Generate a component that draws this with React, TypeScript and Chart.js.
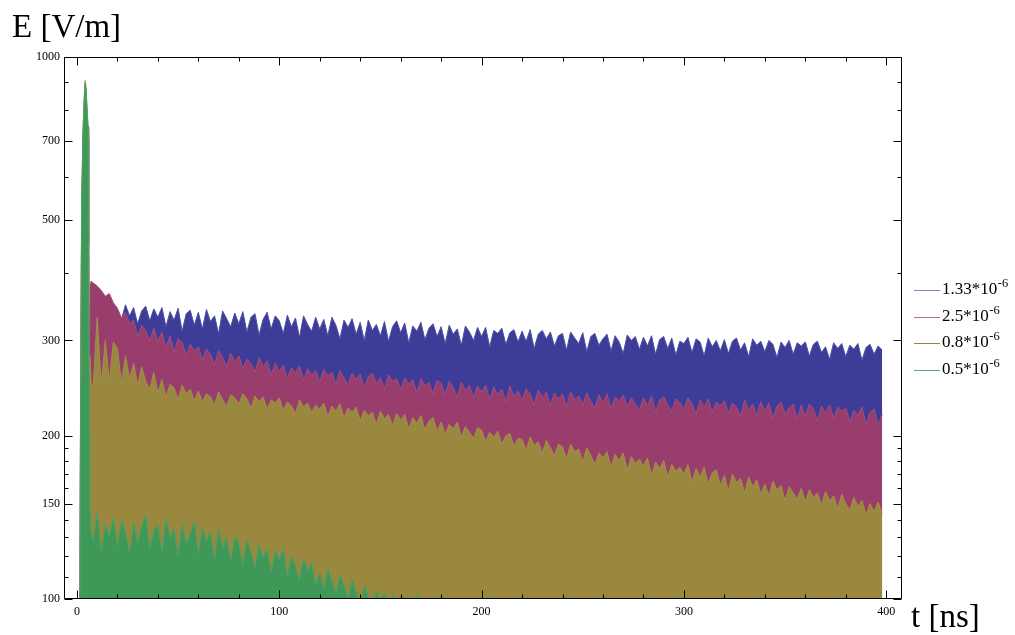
import { useEffect, useRef } from "react";
import { Chart, registerables } from "chart.js";

Chart.register(...registerables);

// ---- data (t in ns, E in V/m) ----
const PULSE_T = [1.5, 1.8, 2, 2.3, 3, 3.5, 4, 4.5, 5, 5.5, 5.8, 6, 6.5, 7];
const MAIN_T_START = 8;
const MAIN_T_STEP = 2;

const SERIES_NAMES = ["1.33", "2.5", "0.8", "0.5"];
const SERIES_EXP = "-6";

const BLUE_PULSE = [100, 220, 270, 500, 690, 790, 860, 840, 770, 700, 450, 240, 330, 336];
const BLUE_MAIN = [
  338, 344, 336, 347, 340, 345,
  342, 328, 349, 333, 345, 322, 340, 347, 326, 343,
  331, 345, 318, 339, 327, 344, 312, 336, 341, 320,
  338, 315, 342, 325, 333, 309, 340, 329, 318, 337,
  322, 339, 311, 331, 336, 307, 328, 338, 315, 333,
  326, 309, 334, 318, 330, 304, 333, 321, 312, 331,
  315, 328, 306, 331, 320, 302, 327, 317, 329, 308,
  324, 300, 327, 313, 321, 306, 325, 299, 318, 326,
  310, 323, 297, 319, 312, 324, 301, 316, 322, 305,
  318, 296, 320, 308, 315, 294, 319, 311, 300, 317,
  305, 317, 292, 313, 309, 316, 295, 310, 314, 298,
  312, 299, 314, 290, 308, 313, 302, 311, 293, 306,
  309, 288, 311, 303, 296, 310, 286, 305, 309, 294,
  302, 308, 287, 306, 298, 284, 307, 300, 305, 289,
  304, 293, 306, 283, 301, 305, 290, 303, 282, 299,
  296, 304, 285, 302, 298, 281, 303, 292, 300, 287,
  301, 284, 299, 303, 288, 297, 280, 302, 294, 299,
  286, 300, 295, 279, 298, 291, 300, 283, 297, 293,
  298, 281, 295, 299, 285, 292, 277, 297, 290, 296,
  280, 294, 289, 296, 276, 291, 295, 283, 293, 288,
];

const MAGENTA_PULSE = [100, 230, 280, 510, 700, 800, 870, 850, 780, 720, 460, 250, 378, 386];
const MAGENTA_MAIN = [
  383, 378, 371, 362, 366, 352,
  344, 330, 338, 322, 327, 305, 320, 312, 300, 316,
  298, 311, 290, 306, 285, 302, 297, 281, 295, 287,
  292, 276, 289, 283, 270, 287, 279, 268, 284, 274,
  281, 266, 277, 272, 262, 279, 268, 275, 259, 272,
  263, 270, 255, 267, 261, 269, 253, 266, 259, 264,
  251, 265, 258, 262, 249, 264, 256, 248, 261, 254,
  260, 245, 257, 261, 250, 256, 244, 259, 252, 255,
  243, 256, 249, 254, 240, 255, 247, 251, 239, 253,
  250, 238, 252, 245, 236, 251, 242, 248, 235, 247,
  241, 248, 233, 246, 238, 244, 231, 247, 236, 242,
  232, 244, 239, 228, 243, 235, 241, 227, 240, 234,
  239, 226, 241, 233, 237, 228, 240, 231, 225, 238,
  230, 239, 224, 236, 232, 238, 226, 235, 229, 223,
  235, 227, 237, 221, 233, 236, 228, 222, 234, 230,
  224, 235, 229, 219, 233, 226, 234, 221, 231, 227,
  232, 220, 230, 226, 217, 233, 223, 229, 218, 231,
  222, 230, 215, 227, 231, 219, 225, 229, 214, 228,
  217, 229, 224, 213, 227, 220, 228, 215, 226, 222,
  225, 212, 223, 218, 226, 210, 221, 224, 209, 219,
];

const OLIVE_PULSE = [100, 240, 290, 530, 735, 830, 905, 880, 805, 740, 480, 260, 280, 250];
const OLIVE_MAIN = [
  246, 331, 248, 300, 252, 298,
  290, 250, 281, 255, 272, 248, 268, 252, 244, 262,
  240, 254, 236, 249, 245, 233, 248, 239, 244, 232,
  242, 231, 239, 236, 228, 241, 233, 227, 238, 235,
  229, 239, 234, 225, 237, 231, 236, 224, 233, 230,
  235, 223, 231, 227, 220, 233, 226, 230, 221, 228,
  224, 230, 217, 227, 222, 229, 216, 225, 221, 226,
  213, 223, 218, 221, 210, 222, 215, 219, 209, 220,
  214, 219, 206, 216, 211, 218, 205, 213, 216, 204,
  212, 201, 210, 206, 212, 199, 208, 203, 198, 207,
  205, 195, 203, 199, 204, 193, 200, 202, 191, 198,
  197, 188, 199, 192, 195, 186, 196, 190, 184, 193,
  191, 181, 193, 187, 189, 179, 190, 184, 177, 186,
  182, 187, 175, 185, 180, 186, 173, 183, 178, 181,
  176, 182, 169, 179, 174, 180, 168, 177, 172, 175,
  170, 177, 164, 174, 168, 175, 163, 171, 173, 162,
  169, 158, 170, 164, 167, 157, 168, 161, 166, 156,
  163, 155, 165, 159, 162, 152, 161, 157, 153, 160,
  151, 159, 154, 157, 149, 158, 152, 155, 147, 156,
  150, 146, 154, 148, 152, 143, 150, 145, 151, 144,
];

const GREEN_PULSE = [100, 250, 300, 540, 730, 820, 895, 870, 800, 745, 500, 270, 145, 132];
const GREEN_MAIN = [
  128, 145, 122, 138, 131, 142,
  125, 140, 133, 121, 139, 127, 136, 143, 124, 134,
  137, 122, 141, 130, 135, 120, 138, 126, 132, 139,
  121, 136, 128, 133, 118, 135, 124, 130, 117, 131,
  127, 116, 129, 122, 114, 126, 119, 124, 112, 123,
  118, 124, 110, 120, 115, 108, 119, 113, 117, 106,
  112, 104, 114, 108, 102, 111, 106, 100, 109, 103,
  98, 106, 101, 96, 104, 99, 103, 95, 102, 97,
  93, 101, 97, 92, 102, 95, 98, 91, 101, 94,
  90, 99, 93, 89, 97, 91, 95, 88, 94, 90,
];

const X_MAJOR = [0, 100, 200, 300, 400];
const X_MINOR = [20, 40, 60, 80, 120, 140, 160, 180, 220, 240, 260, 280, 320, 340, 360, 380];
const Y_MAJOR = [100, 150, 200, 300, 500, 700, 1000];
const Y_MINOR = [110, 120, 130, 140, 160, 170, 180, 190, 400, 600, 800, 900];

// ---- styles ----
const FILL_COLORS = ["rgb(61,61,153)", "rgb(153,61,108)", "rgb(153,136,62)", "rgb(62,153,88)"];
const EDGE_COLORS = ["rgb(78,78,163)", "rgb(163,78,122)", "rgb(160,144,74)", "rgb(78,160,102)"];
const LEGEND_COLORS = ["rgb(130,130,200)", "rgb(196,100,150)", "rgb(160,132,50)", "rgb(90,165,115)"];
const SERIF = '"Liberation Serif", "Times New Roman", serif';

function buildPoints(pulse: number[], main: number[]) {
  const pts = PULSE_T.map((t, i) => ({ x: t, y: pulse[i] }));
  main.forEach((v, i) => pts.push({ x: MAIN_T_START + i * MAIN_T_STEP, y: v }));
  return pts;
}

const framePlugin = {
  id: "mmaFrame",
  afterDatasetsDraw(chart: any) {
    const { ctx, chartArea: a, scales } = chart;
    const xs = scales.x;
    const ys = scales.y;
    ctx.save();
    ctx.strokeStyle = "#000";
    ctx.lineWidth = 1;
    const L = Math.round(a.left) + 0.5;
    const R = Math.round(a.right) + 0.5;
    const T = Math.round(a.top) + 0.5;
    const B = Math.round(a.bottom) - 0.5;
    ctx.beginPath();
    ctx.rect(L, T, R - L, B - T);
    ctx.stroke();
    const xTick = (v: number, len: number) => {
      const px = Math.round(xs.getPixelForValue(v)) + 0.5;
      ctx.moveTo(px, B);
      ctx.lineTo(px, B - len);
      ctx.moveTo(px, T);
      ctx.lineTo(px, T + len);
    };
    const yTick = (v: number, len: number) => {
      const py = Math.round(ys.getPixelForValue(v)) + 0.5;
      ctx.moveTo(L, py);
      ctx.lineTo(L + len, py);
      ctx.moveTo(R, py);
      ctx.lineTo(R - len, py);
    };
    ctx.beginPath();
    X_MAJOR.forEach((v) => xTick(v, 8));
    X_MINOR.forEach((v) => xTick(v, 4));
    Y_MAJOR.forEach((v) => yTick(v, 8));
    Y_MINOR.forEach((v) => yTick(v, 4));
    ctx.stroke();
    ctx.restore();
  },
  afterDraw(chart: any) {
    const { ctx } = chart;
    ctx.save();
    ctx.fillStyle = "#000";
    ctx.textBaseline = "alphabetic";
    ctx.textAlign = "left";
    ctx.font = `33px ${SERIF}`;
    ctx.fillText("E [V/m]", 12, 37);
    ctx.fillText("t [ns]", 911, 627);
    // legend
    SERIES_NAMES.forEach((name, i) => {
      const ly = Math.round(290 + i * 26.7) + 0.5;
      ctx.strokeStyle = LEGEND_COLORS[i];
      ctx.lineWidth = 1;
      ctx.beginPath();
      ctx.moveTo(914, ly);
      ctx.lineTo(940, ly);
      ctx.stroke();
      ctx.fillStyle = "#000";
      ctx.font = `17px ${SERIF}`;
      const txt = `${name}*10`;
      ctx.fillText(txt, 942, ly + 3);
      const w = ctx.measureText(txt).width;
      ctx.font = `12.5px ${SERIF}`;
      ctx.fillText(SERIES_EXP, 942 + w + 0.5, ly - 3.5);
    });
    ctx.restore();
  },
};

export default function App() {
  const ref = useRef<HTMLCanvasElement | null>(null);
  useEffect(() => {
    if (!ref.current) return;
    const mk = (pulse: number[], main: number[], i: number) => ({
      data: buildPoints(pulse, main),
      borderColor: EDGE_COLORS[i],
      backgroundColor: FILL_COLORS[i],
      borderWidth: 1,
      pointRadius: 0,
      tension: 0,
      fill: "start",
    });
    const chart = new Chart(ref.current, {
      type: "line",
      data: {
        datasets: [
          mk(GREEN_PULSE, GREEN_MAIN, 3),
          mk(OLIVE_PULSE, OLIVE_MAIN, 2),
          mk(MAGENTA_PULSE, MAGENTA_MAIN, 1),
          mk(BLUE_PULSE, BLUE_MAIN, 0),
        ] as any,
      },
      options: {
        animation: false,
        responsive: false,
        devicePixelRatio: 1,
        layout: { padding: { left: 0, right: 114, top: 57, bottom: 0 } },
        plugins: { legend: { display: false }, tooltip: { enabled: false } },
        scales: {
          x: {
            type: "linear",
            min: -6.4,
            max: 407.3,
            grid: { display: false, drawTicks: false },
            border: { display: false },
            afterBuildTicks: (s: any) => {
              s.ticks = X_MAJOR.map((v) => ({ value: v }));
            },
            afterFit: (s: any) => {
              s.height = 36;
            },
            ticks: {
              autoSkip: false,
              maxRotation: 0,
              padding: 6,
              color: "#000",
              font: { family: SERIF, size: 12 },
              callback: (v: any) => String(v),
            },
          },
          y: {
            type: "logarithmic",
            min: 100,
            max: 1000,
            grid: { display: false, drawTicks: false },
            border: { display: false },
            afterBuildTicks: (s: any) => {
              s.ticks = Y_MAJOR.map((v) => ({ value: v }));
            },
            afterFit: (s: any) => {
              s.width = 64;
            },
            ticks: {
              autoSkip: false,
              padding: 4,
              color: "#000",
              font: { family: SERIF, size: 12 },
              callback: (v: any) => String(v),
            },
          },
        },
      } as any,
      plugins: [framePlugin],
    });
    return () => chart.destroy();
  }, []);
  return (
    <div style={{ position: "absolute", left: 0, top: 0, width: 1015, height: 635, background: "#fff" }}>
      <canvas ref={ref} width={1015} height={635} style={{ display: "block" }} />
    </div>
  );
}
